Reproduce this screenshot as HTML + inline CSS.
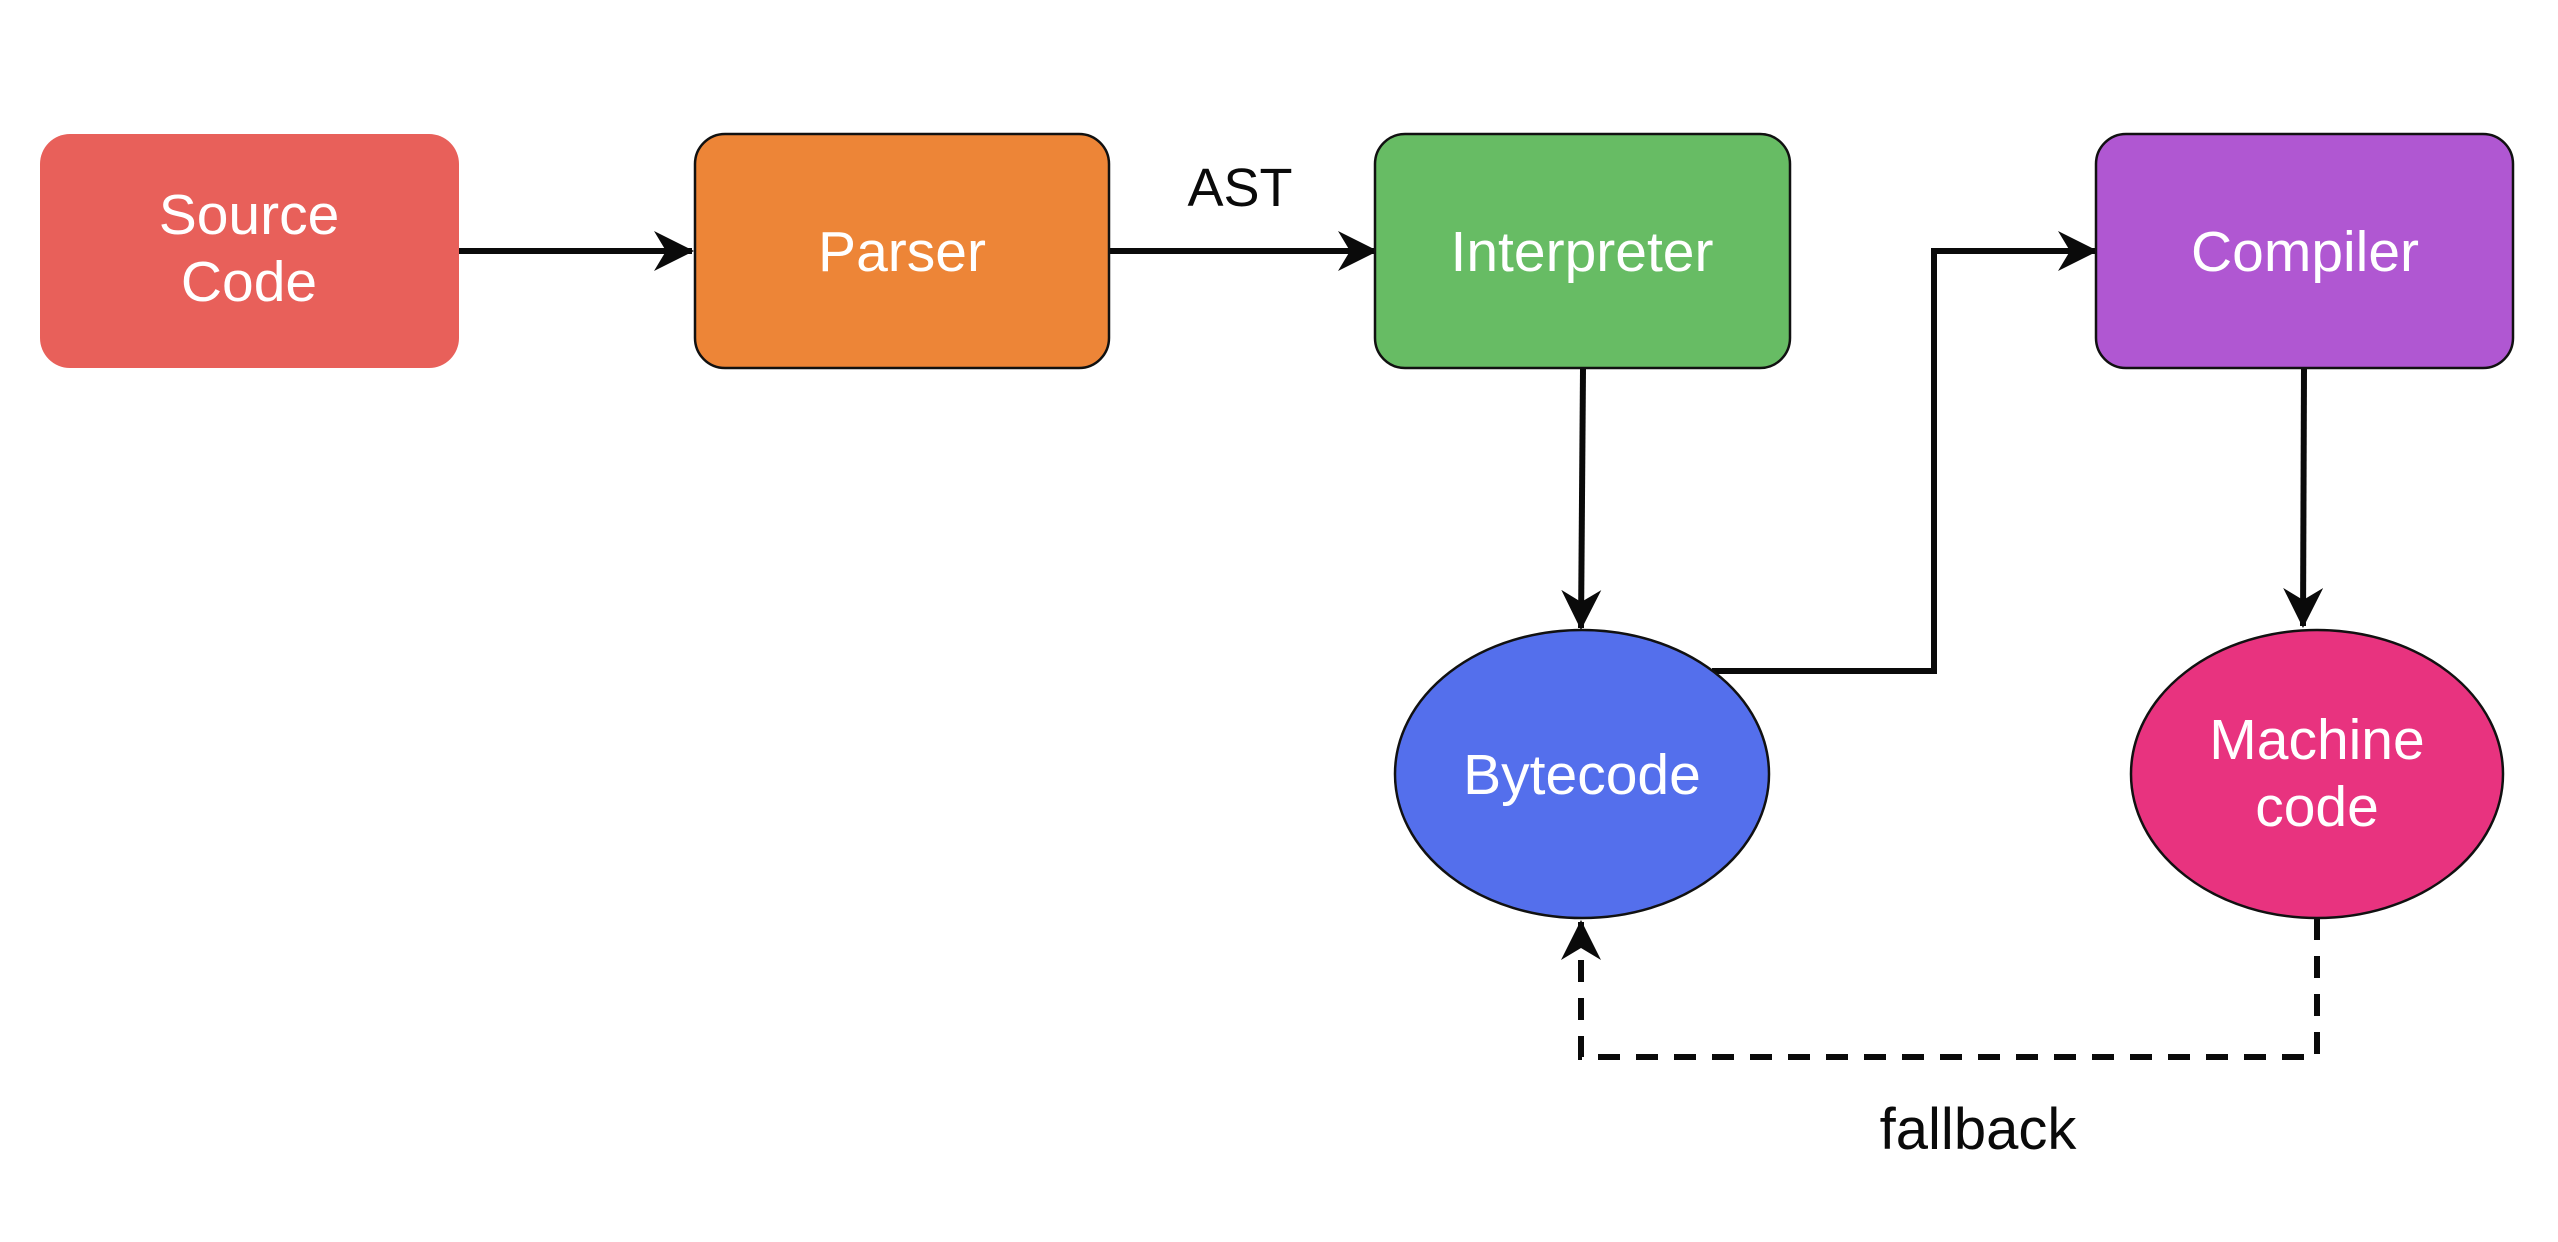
<!DOCTYPE html>
<html><head><meta charset="utf-8"><style>
html,body{margin:0;padding:0;background:#fff;}
svg{display:block;}
text{font-family:"Liberation Sans",sans-serif;}
</style></head><body>
<svg width="2558" height="1242" viewBox="0 0 2558 1242" xmlns="http://www.w3.org/2000/svg">
<defs>
<marker id="ah" markerUnits="userSpaceOnUse" markerWidth="42" markerHeight="42" refX="38" refY="20" orient="auto">
<path d="M0,0 L40,20 L0,40 L12,20 Z" fill="#0a0a0a"/>
</marker>
</defs>
<g stroke="#0a0a0a" stroke-width="6" fill="none">
<line x1="459" y1="251" x2="692" y2="251" marker-end="url(#ah)"/>
<line x1="1109" y1="251" x2="1376" y2="251" marker-end="url(#ah)"/>
<line x1="1583" y1="369" x2="1581" y2="628" marker-end="url(#ah)"/>
<polyline points="1712,671 1934,671 1934,251 2096,251" marker-end="url(#ah)"/>
<line x1="2304" y1="369" x2="2303" y2="626" marker-end="url(#ah)"/>
<polyline points="2317,918 2317,1057 1581,1057 1581,922" stroke-dasharray="22,16" marker-end="url(#ah)"/>
</g>
<rect x="40" y="134" width="419" height="234" rx="30" fill="#E8605A"/>
<rect x="695" y="134" width="414" height="234" rx="30" fill="#ED8537" stroke="#111" stroke-width="2.5"/>
<rect x="1375" y="134" width="415" height="234" rx="30" fill="#67BC64" stroke="#111" stroke-width="2.5"/>
<rect x="2096" y="134" width="417" height="234" rx="30" fill="#B057D2" stroke="#111" stroke-width="2.5"/>
<ellipse cx="1582" cy="774" rx="187" ry="144" fill="#546FEC" stroke="#111" stroke-width="2.5"/>
<ellipse cx="2317" cy="774" rx="186" ry="144" fill="#E8337F" stroke="#111" stroke-width="2.5"/>
<g fill="#fff" font-size="57" text-anchor="middle">
<text x="249" y="234">Source</text>
<text x="249" y="301">Code</text>
<text x="902" y="271">Parser</text>
<text x="1582" y="271">Interpreter</text>
<text x="2305" y="271">Compiler</text>
<text x="1582" y="794">Bytecode</text>
<text x="2317" y="759">Machine</text>
<text x="2317" y="826">code</text>
</g>
<g fill="#0a0a0a" text-anchor="middle">
<text x="1240" y="206" font-size="54">AST</text>
<text x="1978" y="1149" font-size="58">fallback</text>
</g>
</svg>
</body></html>
